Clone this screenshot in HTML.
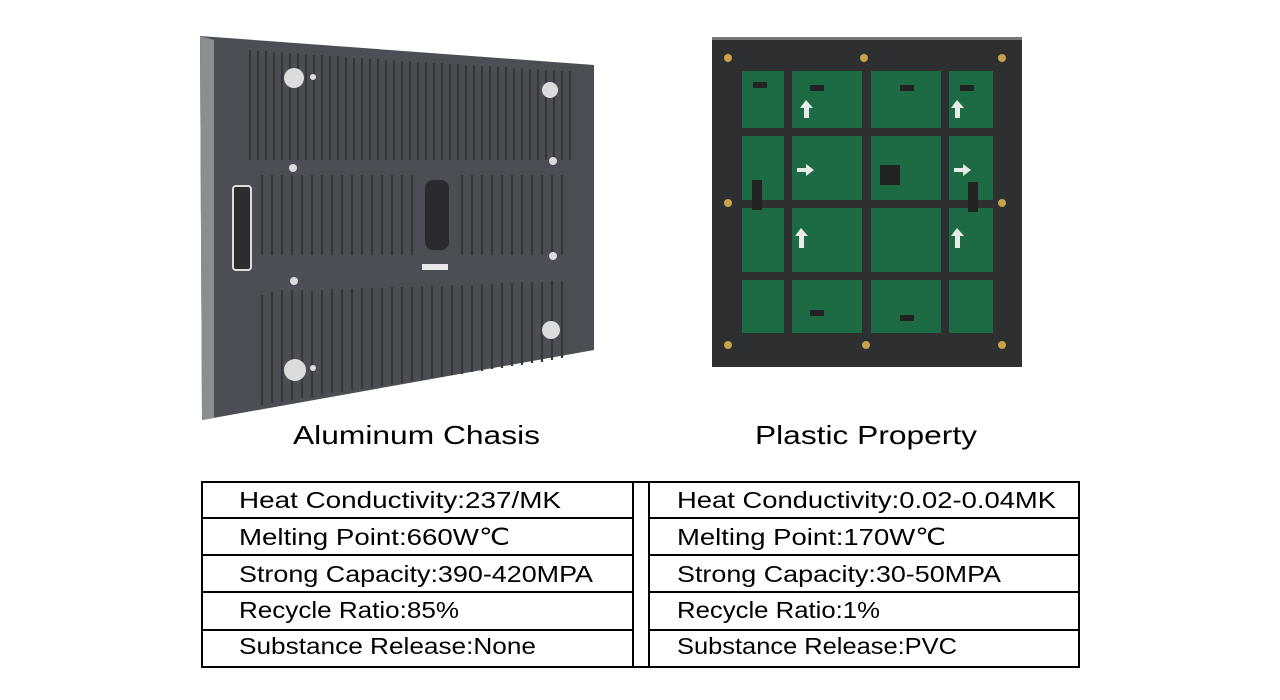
<!DOCTYPE html>
<html><head><meta charset="utf-8"><style>
html,body{margin:0;padding:0;background:#fff;width:1280px;height:700px;overflow:hidden}
svg{display:block}
text{font-family:"Liberation Sans",sans-serif;fill:#000}
</style></head><body>
<svg width="1280" height="700" viewBox="0 0 1280 700">
<!-- Aluminum chassis -->
<polygon points="200,36 594,65 594,350 202,420" fill="#4b4e54"/>
<polygon points="200,36 214,40 214,418 202,420" fill="#8a8d92"/>
<g stroke="#35373b" stroke-width="2.2">
<path d="M250,50 V160 M258,51 V160 M266,51 V160 M274,52 V160 M282,52 V160 M290,53 V160 M298,53 V160 M306,54 V160 M314,55 V160 M322,55 V160 M330,56 V160 M338,56 V160 M346,57 V160 M354,58 V160 M362,58 V160 M370,59 V160 M378,59 V160 M386,60 V160 M394,60 V160 M402,61 V160 M410,61 V160 M418,62 V160 M426,62 V160 M434,63 V160 M442,63 V160 M450,64 V160 M458,64 V160 M466,65 V160 M474,65 V160 M482,66 V160 M490,66 V160 M498,67 V160 M506,67 V160 M514,68 V160 M522,68 V160 M530,69 V160 M538,69 V160 M546,70 V160 M554,70 V160 M562,71 V160 M570,71 V160"/>
<path d="M262,175 V255 M272,175 V255 M282,175 V255 M292,175 V255 M302,175 V255 M312,175 V255 M322,175 V255 M332,175 V255 M342,175 V255 M352,175 V255 M362,175 V255 M372,175 V255 M382,175 V255 M392,175 V255 M402,175 V255 M412,175 V255 M462,175 V255 M472,175 V255 M482,175 V255 M492,175 V255 M502,175 V255 M512,175 V255 M522,175 V255 M532,175 V255 M542,175 V255 M552,175 V255 M562,175 V255"/>
<path d="M262,295 V405 M272,292 V403 M282,290 V402 M292,290 V400 M302,290 V398 M312,290 V397 M322,290 V395 M332,289 V393 M342,289 V392 M352,289 V390 M362,288 V389 M372,288 V387 M382,288 V386 M392,287 V384 M402,287 V383 M412,287 V381 M422,286 V380 M432,286 V378 M442,286 V377 M452,285 V375 M462,285 V374 M472,285 V372 M482,284 V371 M492,284 V369 M502,283 V368 M512,283 V366 M522,282 V365 M532,282 V363 M542,282 V362 M552,281 V360 M562,281 V358"/>
</g>
<rect x="425" y="180" width="24" height="70" rx="8" fill="#2a2b2e"/>
<rect x="233" y="186" width="18" height="84" rx="3" fill="#2c2d30" stroke="#ddd" stroke-width="2"/>
<rect x="422" y="264" width="26" height="6" fill="#e8e8e8"/>
<g fill="#dcdcdc"><circle cx="294" cy="78" r="10"/><circle cx="550" cy="90" r="8"/><circle cx="295" cy="370" r="11"/><circle cx="551" cy="330" r="9"/>
<circle cx="293" cy="168" r="4"/><circle cx="553" cy="161" r="4"/><circle cx="294" cy="281" r="4"/><circle cx="553" cy="256" r="4"/><circle cx="313" cy="77" r="3"/><circle cx="313" cy="368" r="3"/></g>
<!-- Plastic module -->
<rect x="712" y="37" width="310" height="330" fill="#2e2f31"/>
<rect x="712" y="37" width="310" height="3" fill="#777"/>
<g fill="#1d6b45">
<rect x="742" y="71" width="42" height="57"/><rect x="792" y="71" width="70" height="57"/><rect x="871" y="71" width="70" height="57"/><rect x="949" y="71" width="44" height="57"/>
<rect x="742" y="136" width="42" height="64"/><rect x="792" y="136" width="70" height="64"/><rect x="871" y="136" width="70" height="64"/><rect x="949" y="136" width="44" height="64"/>
<rect x="742" y="208" width="42" height="64"/><rect x="792" y="208" width="70" height="64"/><rect x="871" y="208" width="70" height="64"/><rect x="949" y="208" width="44" height="64"/>
<rect x="742" y="280" width="42" height="53"/><rect x="792" y="280" width="70" height="53"/><rect x="871" y="280" width="70" height="53"/><rect x="949" y="280" width="44" height="53"/>
</g>
<g fill="#222"><rect x="752" y="180" width="10" height="30"/><rect x="968" y="182" width="10" height="30"/><rect x="880" y="165" width="20" height="20"/>
<rect x="753" y="82" width="14" height="6"/><rect x="810" y="85" width="14" height="6"/><rect x="900" y="85" width="14" height="6"/><rect x="960" y="85" width="14" height="6"/><rect x="810" y="310" width="14" height="6"/><rect x="900" y="315" width="14" height="6"/></g>
<g fill="#e8ece8">
<polygon points="806,100 800,108 804,108 804,118 809,118 809,108 813,108"/>
<polygon points="957,100 951,108 955,108 955,118 960,118 960,108 964,108"/>
<polygon points="814,170 806,164 806,168 797,168 797,172 806,172 806,176"/>
<polygon points="971,170 963,164 963,168 954,168 954,172 963,172 963,176"/>
<polygon points="801,228 795,236 799,236 799,248 804,248 804,236 808,236"/>
<polygon points="957,228 951,236 955,236 955,248 960,248 960,236 964,236"/>
</g>
<g fill="#c9a24a"><circle cx="728" cy="58" r="4"/><circle cx="864" cy="58" r="4"/><circle cx="1002" cy="58" r="4"/><circle cx="728" cy="203" r="4"/><circle cx="1002" cy="203" r="4"/><circle cx="728" cy="345" r="4"/><circle cx="866" cy="345" r="4"/><circle cx="1002" cy="345" r="4"/></g>
<!-- titles -->
<text x="293" y="444" font-size="26" textLength="247" lengthAdjust="spacingAndGlyphs">Aluminum Chasis</text>
<text x="755" y="444" font-size="26" textLength="222" lengthAdjust="spacingAndGlyphs">Plastic Property</text>
<!-- tables -->
<g fill="none" stroke="#000" stroke-width="2">
<rect x="202" y="482" width="431" height="185"/>
<rect x="649" y="482" width="430" height="185"/>
<rect x="633" y="482" width="16" height="185"/>
<path d="M202,518 H633 M202,555 H633 M202,592 H633 M202,630 H633 M649,518 H1079 M649,555 H1079 M649,592 H1079 M649,630 H1079"/>
</g>
<g font-size="23">
<text x="239" y="508" textLength="322" lengthAdjust="spacingAndGlyphs">Heat Conductivity:237/MK</text>
<text x="239" y="545" textLength="271" lengthAdjust="spacingAndGlyphs">Melting Point:660W℃</text>
<text x="239" y="582" textLength="354" lengthAdjust="spacingAndGlyphs">Strong Capacity:390-420MPA</text>
<text x="239" y="618" textLength="220" lengthAdjust="spacingAndGlyphs">Recycle Ratio:85%</text>
<text x="239" y="654" textLength="297" lengthAdjust="spacingAndGlyphs">Substance Release:None</text>
<text x="677" y="508" textLength="379" lengthAdjust="spacingAndGlyphs">Heat Conductivity:0.02-0.04MK</text>
<text x="677" y="545" textLength="269" lengthAdjust="spacingAndGlyphs">Melting Point:170W℃</text>
<text x="677" y="582" textLength="324" lengthAdjust="spacingAndGlyphs">Strong Capacity:30-50MPA</text>
<text x="677" y="618" textLength="203" lengthAdjust="spacingAndGlyphs">Recycle Ratio:1%</text>
<text x="677" y="654" textLength="280" lengthAdjust="spacingAndGlyphs">Substance Release:PVC</text>
</g>
</svg>
</body></html>
